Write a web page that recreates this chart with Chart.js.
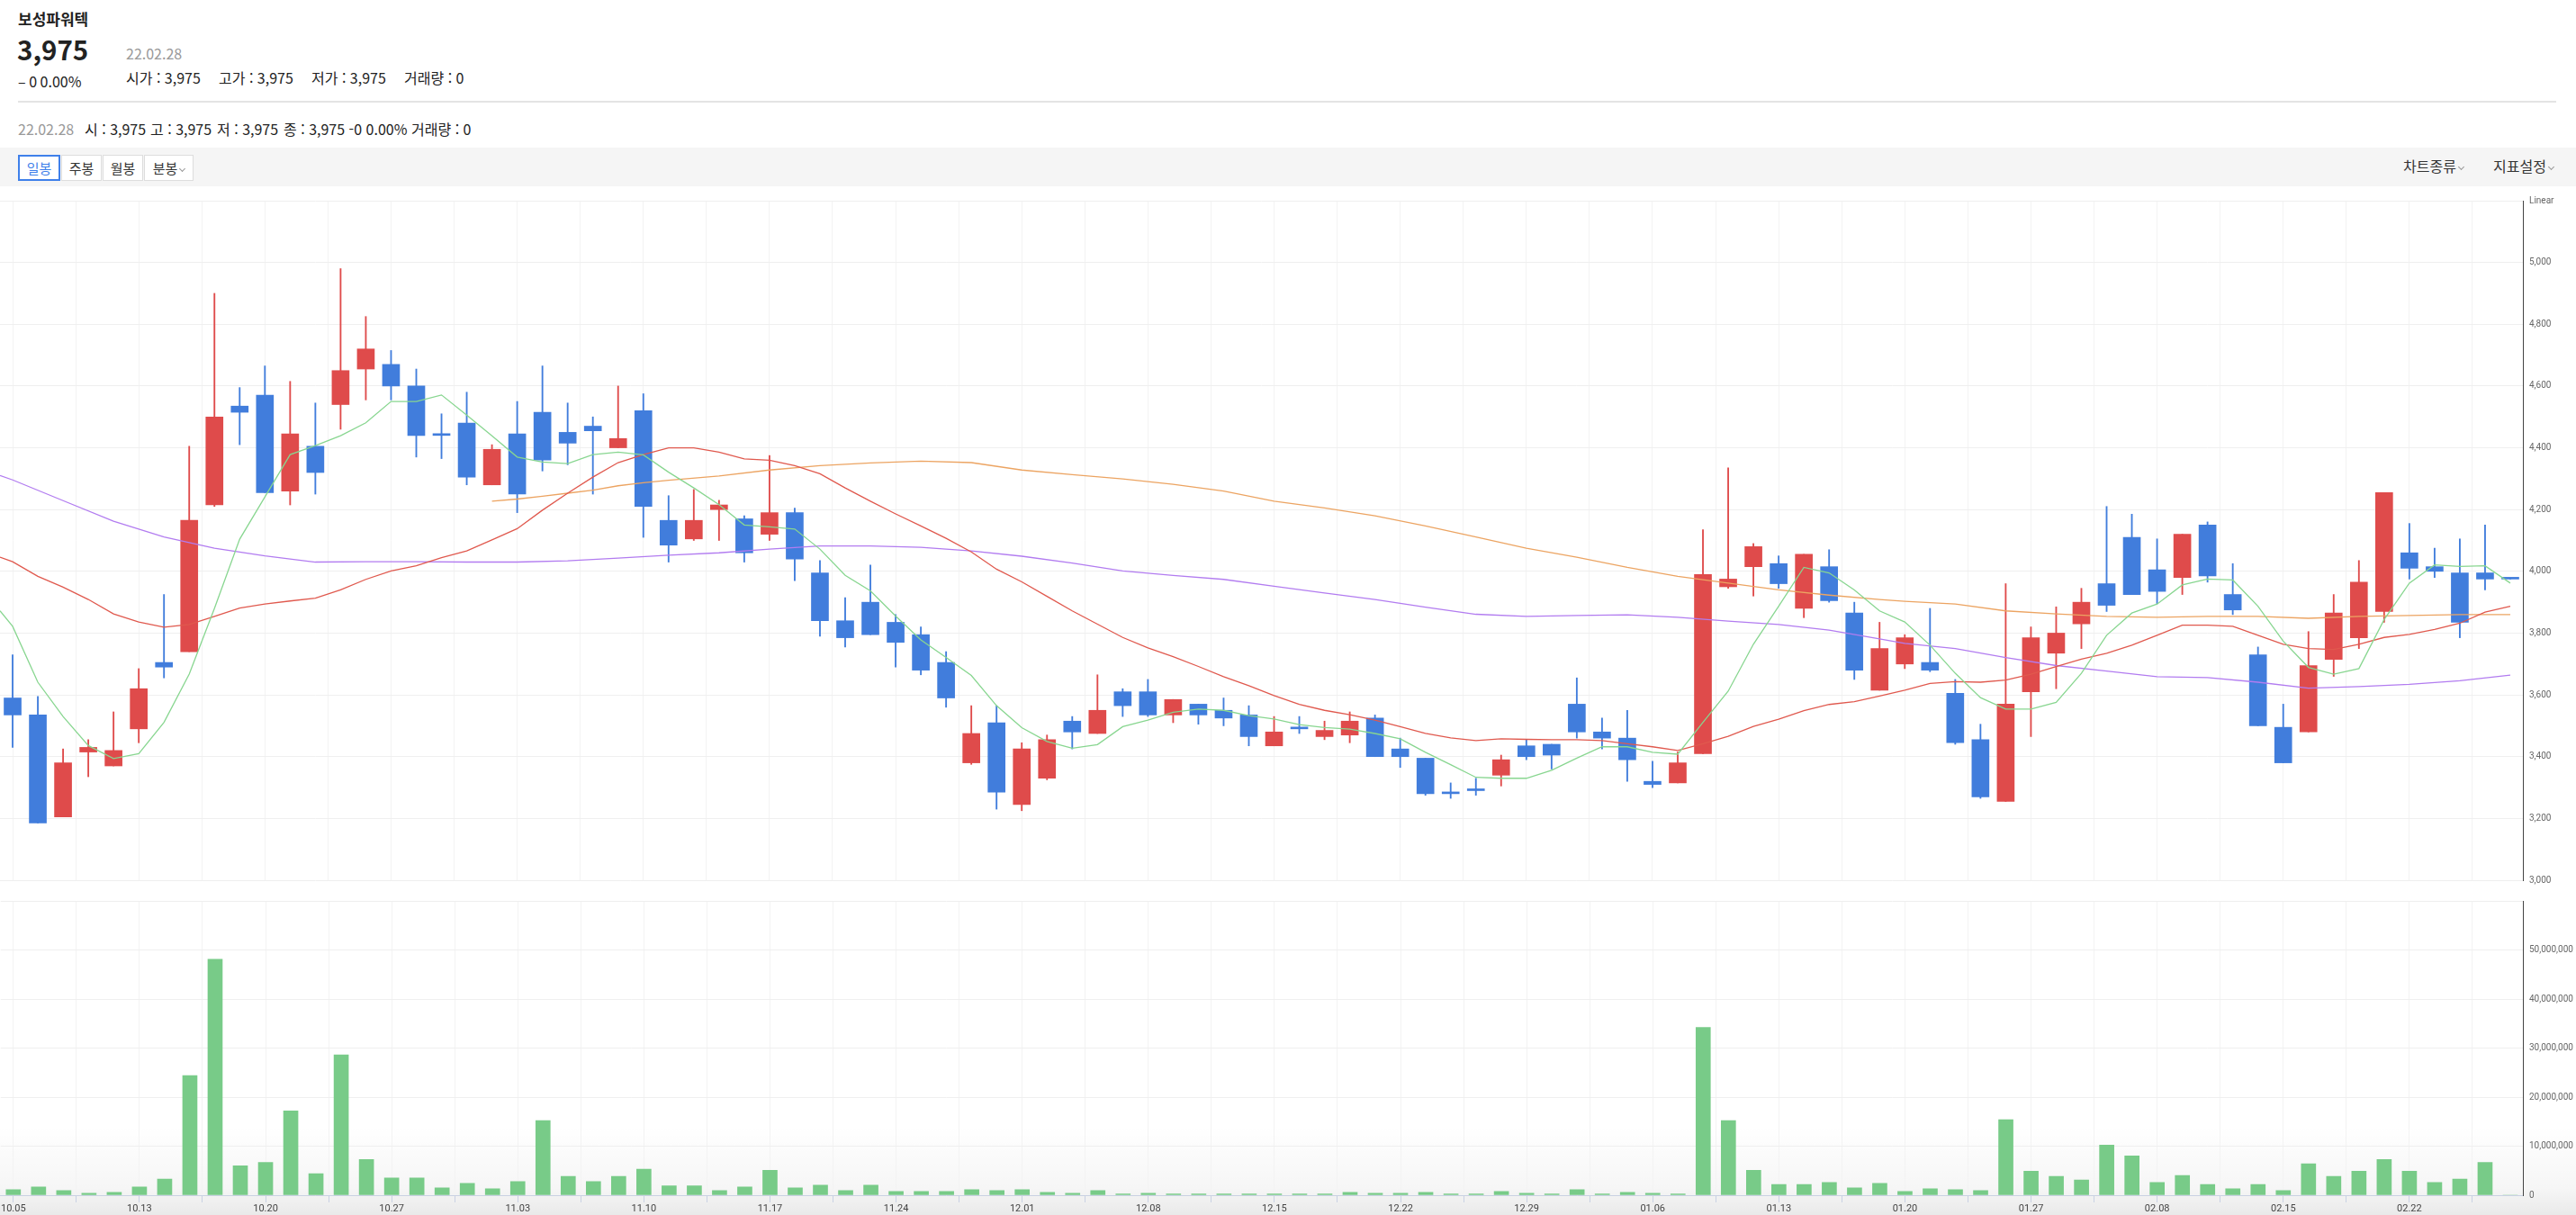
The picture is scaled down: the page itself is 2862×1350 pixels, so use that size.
<!DOCTYPE html>
<html lang="ko">
<head>
<meta charset="UTF-8">
<title>보성파워텍</title>
<script src="https://cdn.jsdelivr.net/npm/chart.js"></script>
<style>
  body { margin: 0; width: 2862px; height: 1350px; position: relative; overflow: hidden; background: #fff;
         font-family: "Noto Sans CJK KR", "Noto Sans", sans-serif; color: #222; }
  .t { position: absolute; white-space: nowrap; line-height: 1; }
  .gray { color: #999; }
  .btn { position: absolute; top: 172px; height: 29px; box-sizing: border-box; background: #fff; border: 1px solid #ddd;
         font-size: 15px; line-height: 27px; text-align: center; color: #333; }
  .btn.on { border: 2px solid #3f80ea; color: #3f80ea; line-height: 25px; }
  .chev { display: inline-block; width: 4px; height: 4px; border-right: 1px solid #999; border-bottom: 1px solid #999;
          transform: rotate(45deg); margin-left: 3px; position: relative; top: -3px; }
  canvas { position: absolute; left: 0; }
</style>
</head>
<body>
  <!-- 상단 종목 정보 -->
  <div class="t" style="left:20px; top:12px; font-size:17px; font-weight:700;">보성파워텍</div>
  <div class="t" style="left:19px; top:40px; font-size:29.5px; font-weight:700;">3,975</div>
  <div class="t gray" style="left:140px; top:51px; font-size:16px;">22.02.28</div>
  <div class="t" style="left:20px; top:82px; font-size:16px;">– 0 0.00%</div>
  <div class="t" style="left:140px; top:78px; font-size:16px;">시가 : 3,975</div>
  <div class="t" style="left:243px; top:78px; font-size:16px;">고가 : 3,975</div>
  <div class="t" style="left:346px; top:78px; font-size:16px;">저가 : 3,975</div>
  <div class="t" style="left:449px; top:78px; font-size:16px;">거래량 : 0</div>
  <div style="position:absolute; left:20px; top:112px; width:2820px; height:2px; background:#e4e4e4;"></div>

  <div class="t gray" style="left:20px; top:135px; font-size:16px;">22.02.28</div>
  <div class="t" style="left:94px; top:135px; font-size:16px;">시 : 3,975</div>
  <div class="t" style="left:167px; top:135px; font-size:16px;">고 : 3,975</div>
  <div class="t" style="left:241px; top:135px; font-size:16px;">저 : 3,975</div>
  <div class="t" style="left:315px; top:135px; font-size:16px;">종 : 3,975 -0 0.00%</div>
  <div class="t" style="left:457px; top:135px; font-size:16px;">거래량 : 0</div>

  <!-- 툴바 -->
  <div style="position:absolute; left:0; top:164px; width:2862px; height:43px; background:#f5f5f5;"></div>
  <div class="btn on" style="left:20px; width:47px;">일봉</div>
  <div class="btn" style="left:68px; width:45px;">주봉</div>
  <div class="btn" style="left:114px; width:45px;">월봉</div>
  <div class="btn" style="left:160px; width:55px;">분봉<span class="chev"></span></div>
  <div class="t" style="left:2670px; top:176px; font-size:16px; color:#333;">차트종류<span class="chev"></span></div>
  <div class="t" style="left:2770px; top:176px; font-size:16px; color:#333;">지표설정<span class="chev"></span></div>

  <!-- 하단 그림자 -->
  <div style="position:absolute; left:0; top:1250px; width:2862px; height:100px;
              background:linear-gradient(to bottom, rgba(0,0,0,0), rgba(0,0,0,0.035) 70%, rgba(0,0,0,0.085));"></div>

  <canvas id="priceChart" width="2862" height="781" style="top:210px;"></canvas>
  <canvas id="volumeChart" width="2862" height="362" style="top:988px;"></canvas>

<script>
// 날짜 (거래일)
const dates = [
  "10.05","10.06","10.07","10.08","10.12","10.13","10.14","10.15","10.18","10.19",
  "10.20","10.21","10.22","10.25","10.26","10.27","10.28","10.29","11.01","11.02",
  "11.03","11.04","11.05","11.08","11.09","11.10","11.11","11.12","11.15","11.16",
  "11.17","11.18","11.19","11.22","11.23","11.24","11.25","11.26","11.29","11.30",
  "12.01","12.02","12.03","12.06","12.07","12.08","12.09","12.10","12.13","12.14",
  "12.15","12.16","12.17","12.20","12.21","12.22","12.23","12.24","12.27","12.28",
  "12.29","12.30","01.03","01.04","01.05","01.06","01.07","01.10","01.11","01.12",
  "01.13","01.14","01.17","01.18","01.19","01.20","01.21","01.24","01.25","01.26",
  "01.27","01.28","02.03","02.04","02.07","02.08","02.09","02.10","02.11","02.14",
  "02.15","02.16","02.17","02.18","02.21","02.22","02.23","02.24","02.25","02.28"
];

// 시가 / 고가 / 저가 / 종가
const openP = [
  3590,3535,3205,3415,3370,3490,3705,3740,4215,4535, 4570,4260,4405,4540,4655,4670,4600,4440,4480,4280,
  4445,4515,4450,4470,4400,4520,4165,4105,4200,4170, 4120,4190,3995,3840,3900,3835,3795,3705,3380,3510,
  3245,3330,3515,3475,3610,3610,3535,3570,3550,3535, 3435,3495,3465,3470,3525,3425,3395,3280,3290,3340,
  3435,3440,3570,3480,3460,3320,3315,3410,3950,4015, 4025,3880,4015,3865,3615,3700,3705,3605,3455,3255,
  3610,3735,3830,3960,4110,4005,3980,4150,3925,3730, 3495,3480,3715,3785,3870,4060,4015,3995,3995,3975
];
const highP = [
  3730,3595,3425,3455,3545,3685,3925,4405,4900,4595, 4665,4615,4545,4980,4825,4715,4655,4510,4580,4410,
  4550,4665,4545,4500,4600,4575,4245,4265,4230,4180, 4375,4205,4035,3915,4020,3860,3820,3740,3565,3565,
  3445,3470,3530,3665,3620,3650,3585,3570,3590,3565, 3530,3530,3515,3545,3535,3460,3395,3315,3330,3405,
  3455,3440,3655,3525,3550,3385,3415,4135,4335,4090, 4050,4055,4070,3900,3835,3795,3880,3650,3505,3960,
  3820,3885,3945,4210,4185,4105,4120,4160,4025,3755, 3570,3805,3925,4035,4255,4155,4075,4105,4150,3975
];
const lowP = [
  3430,3185,3205,3335,3370,3445,3655,3740,4210,4410, 4255,4215,4250,4460,4555,4555,4370,4365,4280,4280,
  4190,4325,4345,4250,4400,4110,4030,4100,4100,4030, 4100,3970,3790,3755,3795,3690,3665,3560,3375,3230,
  3225,3325,3425,3475,3530,3530,3510,3505,3500,3435, 3435,3475,3455,3445,3400,3365,3275,3265,3275,3305,
  3390,3360,3460,3425,3320,3300,3315,3410,3945,3920, 3945,3850,3900,3650,3615,3685,3675,3440,3265,3255,
  3465,3620,3750,3870,3925,3895,3925,3965,3860,3500, 3380,3480,3660,3750,3835,3975,3980,3785,3940,3975
];
const closeP = [
  3535,3185,3380,3430,3420,3620,3690,4165,4500,4515, 4255,4445,4320,4650,4720,4600,4440,4440,4305,4395,
  4250,4360,4415,4455,4430,4210,4085,4165,4215,4060, 4190,4040,3840,3785,3795,3770,3680,3590,3475,3285,
  3425,3455,3480,3550,3565,3535,3585,3535,3525,3465, 3480,3490,3485,3515,3400,3400,3280,3280,3290,3390,
  3400,3405,3480,3460,3390,3310,3380,3990,3975,4080, 3960,4055,3905,3680,3750,3785,3680,3445,3270,3570,
  3785,3800,3900,3890,3925,3935,4120,3985,3875,3500, 3380,3695,3865,3965,4255,4010,4000,3835,3975,3975
];

// 거래량
const volume = [
  1140000,1680000,960000,420000,600000,1680000,3300000,24400000,48100000,6000000,
  6700000,17200000,4400000,28600000,7300000,3500000,3500000,1500000,2400000,1300000,
  2800000,15200000,3850000,2800000,3850000,5300000,1900000,1900000,960000,1680000,
  5100000,1500000,2050000,960000,2050000,780000,780000,780000,1140000,960000,
  1140000,600000,420000,960000,240000,420000,240000,240000,240000,240000,
  240000,240000,240000,600000,420000,420000,600000,240000,240000,780000,
  420000,240000,1140000,240000,600000,420000,240000,34200000,15200000,5100000,
  2200000,2200000,2600000,1500000,2400000,780000,1300000,1140000,960000,15400000,
  4900000,3850000,3100000,10200000,8000000,2600000,4000000,2200000,1300000,2200000,
  960000,6400000,3850000,4900000,7300000,4900000,2600000,3300000,6700000,0
];

// 이동평균선
const ma5Edge = 3872;
const ma5 = [
  3822,3641,3530,3436,3394,3410,3511,3667,3880,4104, 4241,4378,4407,4439,4481,4550,4550,4571,4506,4439,
  4370,4354,4349,4378,4386,4377,4321,4270,4216,4150, 4144,4137,4072,3987,3937,3855,3778,3721,3663,3565,
  3494,3449,3427,3439,3497,3518,3544,3554,3550,3533, 3522,3504,3494,3489,3475,3458,3414,3374,3333,3330,
  3330,3356,3395,3432,3432,3414,3408,3511,3612,3764, 3887,4013,3995,3940,3872,3836,3761,3670,3591,3554,
  3554,3576,3670,3793,3865,3894,3956,3975,3972,3887, 3774,3689,3667,3685,3844,3962,4021,4016,4018,3962
];
const ma20Edge = 4046;
const ma20 = [
  4031,3984,3949,3909,3862,3836,3819,3828,3854,3881, 3894,3904,3913,3940,3974,4001,4018,4044,4066,4102,
  4138,4198,4253,4305,4352,4378,4400,4400,4386,4364, 4360,4342,4316,4270,4227,4186,4147,4107,4063,4007,
  3966,3919,3872,3829,3786,3752,3724,3692,3659,3630, 3598,3569,3550,3536,3518,3497,3475,3461,3452,3458,
  3456,3455,3455,3452,3442,3432,3420,3442,3466,3498, 3521,3549,3569,3578,3596,3615,3637,3643,3641,3648,
  3667,3692,3716,3735,3761,3793,3826,3826,3822,3793, 3764,3750,3747,3764,3786,3796,3812,3832,3868,3887
];
const ma60Idx = [19,20,21,22,23,24,25,26,28,30,32,34,36,38,40,42,44,46,48,50,52,54,56,58,60,62,64,66,68,70,72,74,75,77,79,81,83,85,87,89,91,93,95,97,99];
const ma60 = [4227,4234,4243,4253,4263,4277,4287,4295,4309,4328,4342,4351,4357,4352,4328,4313,4299,4282,4260,4227,4205,4180,4147,4111,4075,4046,4013,3984,3962,3940,3923,3909,3903,3894,3872,3862,3854,3851,3854,3854,3848,3854,3857,3860,3860];
const ma120Idx = [-0.5,0,2,4,6,8,10,12,14,16,18,20,22,24,26,28,30,32,34,36,38,40,42,44,46,48,50,52,54,56,58,60,62,64,66,68,70,72,74,75,77,79,81,83,85,87,89,91,93,95,97,99];
const ma120 = [4310,4296,4229,4162,4111,4075,4050,4030,4031,4031,4030,4030,4034,4043,4052,4060,4072,4082,4082,4078,4066,4049,4027,4001,3987,3974,3952,3930,3909,3884,3861,3854,3857,3859,3851,3839,3828,3810,3781,3767,3750,3721,3695,3677,3659,3656,3641,3622,3627,3634,3646,3664];

const priceMin = 3000, priceMax = 5200, priceStep = 200;
const volMax = 60000000, volStep = 10000000;

const UP = '#df4b4b', DOWN = '#417ddc', VOL = '#78cb88';

Chart.defaults.font.family = "Roboto, 'Liberation Sans', Arial, sans-serif";

const candleColor = closeP.map((c, i) => c > openP[i] ? UP : DOWN);
const bodies = dates.map((d, i) => ({ x: i, y: [openP[i], closeP[i]] }));
const wicks = dates.map((d, i) => ({ x: i, y: [lowP[i], highP[i]] }));
const volPoints = dates.map((d, i) => ({ x: i, y: volume[i] }));

function pts(idx, vals) { return idx.map((x, k) => ({ x: x, y: vals[k] })); }
const ma5Points = [{ x: -0.5, y: ma5Edge }].concat(ma5.map((y, i) => ({ x: i, y: y })));
const ma20Points = [{ x: -0.5, y: ma20Edge }].concat(ma20.map((y, i) => ({ x: i, y: y })));

function maLine(data, color) {
  return { type: 'line', data: data, borderColor: color, borderWidth: 1.3, pointRadius: 0, tension: 0, order: 0 };
}

// x축 눈금: 2.5 거래일마다 격자, 5 거래일마다 날짜
function stepTicks(scale) {
  const t = [];
  for (let v = 0; v < dates.length; v += 2.5) t.push({ value: v });
  scale.ticks = t;
}

const commonX = {
  type: 'linear', min: -0.5, max: dates.length - 0.5, offset: false,
  afterBuildTicks: stepTicks
};

new Chart(document.getElementById('priceChart'), {
  type: 'bar',
  data: {
    datasets: [
      maLine(ma5Points, '#88d690'),
      maLine(ma20Points, '#e0594e'),
      maLine(pts(ma60Idx, ma60), '#eca462'),
      maLine(pts(ma120Idx, ma120), '#b27cf0'),
      { type: 'bar', data: bodies, backgroundColor: candleColor, barThickness: 19, minBarLength: 2, grouped: false, order: 1 },
      { type: 'bar', data: wicks, backgroundColor: candleColor, barThickness: 1.2, grouped: false, order: 2 }
    ]
  },
  options: {
    responsive: false, animation: false, devicePixelRatio: 1,
    layout: { padding: { top: 7, bottom: 6, left: 0, right: 0 } },
    plugins: { legend: { display: false }, tooltip: { enabled: false } },
    scales: {
      x: Object.assign({}, commonX, {
        afterFit: s => { s.height = 0; },
        ticks: { display: false },
        grid: { color: '#f3f3f3', drawTicks: false, offset: false },
        border: { display: false }
      }),
      y: {
        position: 'right', min: priceMin, max: priceMax,
        afterFit: s => { s.width = 59; },
        ticks: { stepSize: priceStep, font: { size: 10 }, color: '#666', padding: 7,
                 callback: v => v === priceMax ? 'Linear' : v.toLocaleString('en-US') },
        grid: { color: '#efefef', drawTicks: false },
        border: { display: true, color: '#444' }
      }
    }
  }
});

new Chart(document.getElementById('volumeChart'), {
  type: 'bar',
  data: {
    datasets: [
      { data: volPoints, backgroundColor: VOL, barThickness: 16, grouped: false }
    ]
  },
  options: {
    responsive: false, animation: false, devicePixelRatio: 1,
    layout: { padding: { top: 6, bottom: 0, left: 0, right: 0 } },
    plugins: { legend: { display: false }, tooltip: { enabled: false } },
    scales: {
      x: Object.assign({}, commonX, {
        afterFit: s => { s.height = 22; },
        ticks: { autoSkip: false, maxRotation: 0, padding: 1, font: { size: 11 }, color: '#444',
                 callback: v => v % 5 === 0 ? dates[v] : '' },
        grid: { color: '#f3f3f3', tickColor: '#c9d1e3', tickLength: 8, offset: false },
        border: { display: true, color: '#c9d1e3' }
      }),
      y: {
        position: 'right', min: 0, max: volMax,
        afterFit: s => { s.width = 59; },
        ticks: { stepSize: volStep, font: { size: 10 }, color: '#666', padding: 7,
                 callback: v => v === volMax ? '' : v.toLocaleString('en-US') },
        grid: { color: '#efefef', drawTicks: false },
        border: { display: true, color: '#444' }
      }
    }
  }
});
</script>
</body>
</html>
